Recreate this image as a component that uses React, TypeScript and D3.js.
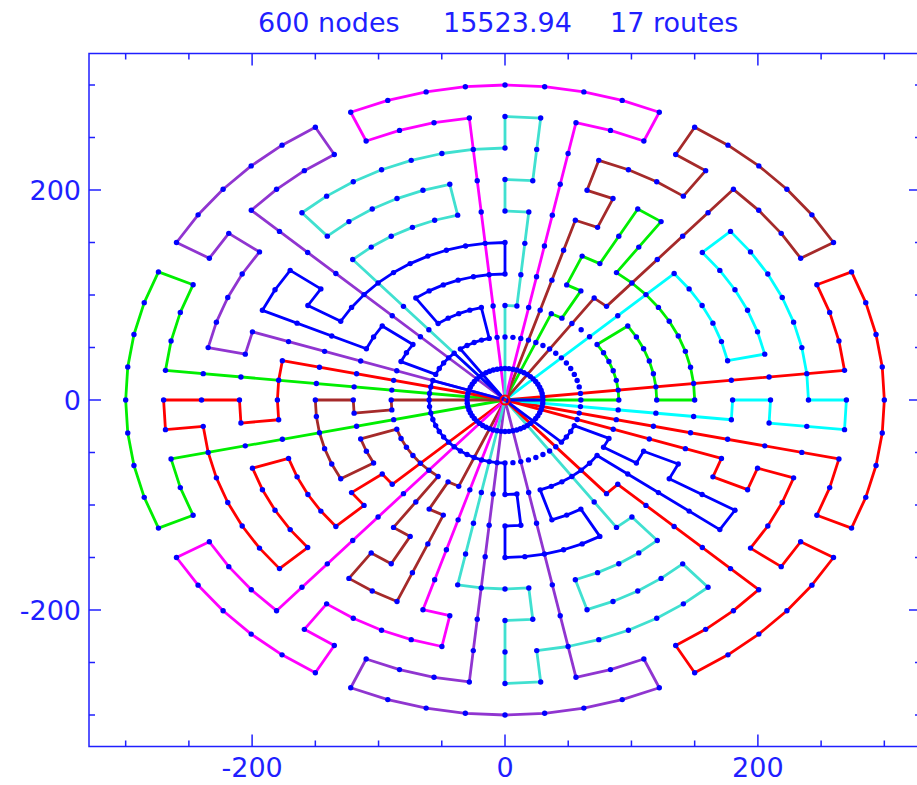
import React, { useEffect, useRef } from 'react';
import * as d3 from 'd3';

// customers sit on concentric rings around the depot, same count on every ring
const ringRadii = [30, 60, 90, 120, 150, 180, 210, 240, 270, 300];
const nodesPerRing = 60;

const titleParts = ['600 nodes', '15523.94', '17 routes'];
const labeledTicks = [-200, 0, 200];
const minorTicks = [-300, -250, -150, -100, -50, 50, 100, 150, 250, 300];

// each route: waypoints [ring, angle index]; [0,0] is the depot.
// consecutive waypoints on the same ring follow the ring node by node.
const routeColors = [
  '#ff0000', '#00ffff', '#00ee00', '#a52a2a', '#ff00ff', '#40e0d0', '#9035d0', '#0000ff',
  '#00ee00', '#ff0000', '#a52a2a', '#ff00ff', '#9035d0', '#40e0d0', '#ff0000', '#0000ff', '#0000ff'
];

const routes = [
  [[0, 0], [9, 1], [9, 4], [10, 4], [10, -4], [9, -4], [9, -2], [0, 0]],
  [[0, 0], [6, 7], [6, 2], [7, 2], [7, 7], [8, 7], [8, 0], [9, 0], [9, -1], [7, -1], [7, 0], [6, 0], [6, -1], [0, 0]],
  [[0, 0], [3, 0], [3, 6], [4, 6], [4, 0], [5, 0], [5, 9], [7, 9], [7, 10], [5, 10], [5, 11], [4, 11], [4, 10], [3, 10], [3, 11], [2, 11], [0, 0]],
  [[0, 0], [4, 9], [4, 8], [9, 8], [9, 5], [10, 5], [10, 10], [9, 10], [9, 9], [8, 9], [8, 12], [7, 12], [7, 11], [6, 11], [6, 12], [0, 0]],
  [[0, 0], [9, 16], [9, 19], [10, 19], [10, 11], [9, 11], [9, 13], [0, 0]],
  [[0, 0], [6, 22], [6, 17], [7, 17], [7, 22], [8, 22], [8, 15], [9, 15], [9, 14], [7, 14], [7, 15], [6, 15], [6, 14], [3, 14], [3, 15], [0, 0]],
  [[0, 0], [9, 23], [9, 20], [10, 20], [10, 25], [9, 25], [9, 24], [8, 24], [8, 28], [7, 28], [7, 27], [0, 0]],
  [[0, 0], [2, 21], [2, 17], [3, 17], [3, 21], [4, 21], [4, 15], [5, 15], [5, 25], [6, 25], [6, 24], [7, 24], [7, 26], [4, 26], [4, 24], [3, 24], [3, 26], [2, 26], [2, 22], [0, 0]],
  [[0, 0], [9, 29], [9, 26], [10, 26], [10, 34], [9, 34], [9, 32], [0, 0]],
  [[0, 0], [6, 28], [6, 31], [7, 31], [7, 30], [9, 30], [9, 31], [8, 31], [8, 37], [7, 37], [7, 33], [6, 33], [6, 37], [5, 37], [5, 36], [4, 36], [4, 37], [0, 0]],
  [[0, 0], [3, 30], [3, 31], [4, 31], [4, 30], [5, 30], [5, 35], [4, 35], [4, 33], [3, 33], [3, 39], [5, 39], [5, 40], [6, 40], [6, 39], [7, 39], [7, 41], [4, 41], [4, 40], [3, 40], [3, 41], [0, 0]],
  [[0, 0], [9, 38], [9, 35], [10, 35], [10, 40], [9, 40], [9, 39], [8, 39], [8, 43], [7, 43], [7, 42], [0, 0]],
  [[0, 0], [9, 44], [9, 41], [10, 41], [10, 49], [9, 49], [9, 47], [0, 0]],
  [[0, 0], [6, 43], [6, 46], [7, 46], [7, 45], [9, 45], [9, 46], [8, 46], [8, 52], [7, 52], [7, 48], [6, 48], [6, 52], [5, 52], [5, 51], [0, 0]],
  [[0, 0], [6, 57], [6, 56], [7, 56], [7, 57], [8, 57], [8, 54], [9, 54], [9, 55], [10, 55], [10, 50], [9, 50], [9, 53], [4, 53], [4, 52], [0, 0]],
  [[0, 0], [2, 27], [2, 45], [3, 45], [3, 46], [4, 46], [4, 45], [5, 45], [5, 50], [4, 50], [4, 48], [3, 48], [3, 54], [7, 54], [7, 55], [5, 55], [5, 56], [4, 56], [4, 55], [3, 55], [3, 56], [2, 56], [2, 53], [0, 0]],
  [[0, 0], [1, 0], [1, 60], [0, 0]]
];

function toXY([ring, idx]) {
  if (ring === 0) return [0, 0];
  const r = ringRadii[ring - 1];
  const a = (idx * 2 * Math.PI) / nodesPerRing;
  return [r * Math.cos(a), r * Math.sin(a)];
}

function expandRoute(route) {
  const pts = [route[0]];
  for (let i = 1; i < route.length; i++) {
    const [pr, pi] = route[i - 1];
    const [ring, idx] = route[i];
    if (ring === pr && ring > 0) {
      const step = idx > pi ? 1 : -1;
      for (let k = pi + step; step > 0 ? k <= idx : k >= idx; k += step) pts.push([ring, k]);
    } else {
      pts.push([ring, idx]);
    }
  }
  return pts.map(toXY);
}

function App() {
  const svgRef = useRef();

  useEffect(() => {
    const width = 917;
    const height = 785;
    const axisColor = '#1f1fff';

    const svg = d3.select(svgRef.current);
    svg.selectAll('*').remove();
    svg.attr('width', width).attr('height', height);

    const x = d3.scaleLinear().domain([-329, 329]).range([89, 921]);
    const y = d3.scaleLinear().domain([-330, 330]).range([746.5, 53.5]);

    svg.append('rect').attr('width', width).attr('height', height).attr('fill', 'white');

    // routes
    const line = d3.line().x(d => x(d[0])).y(d => y(d[1]));
    routes.forEach((route, i) => {
      svg.append('path')
        .attr('d', line(expandRoute(route)))
        .attr('fill', 'none')
        .attr('stroke', routeColors[i])
        .attr('stroke-width', 2.8)
        .attr('stroke-linejoin', 'round');
    });

    // customer nodes
    const nodes = [];
    ringRadii.forEach((_, ri) => {
      for (let k = 0; k < nodesPerRing; k++) nodes.push(toXY([ri + 1, k]));
    });
    svg.append('g').selectAll('circle')
      .data(nodes)
      .join('circle')
      .attr('cx', d => x(d[0]))
      .attr('cy', d => y(d[1]))
      .attr('r', 2.7)
      .attr('fill', '#0000ff');

    // depot
    svg.append('circle').attr('cx', x(0)).attr('cy', y(0)).attr('r', 4.5)
      .attr('fill', 'none').attr('stroke', '#ff0000').attr('stroke-width', 2);
    svg.append('circle').attr('cx', x(0)).attr('cy', y(0)).attr('r', 1.5).attr('fill', '#ff0000');

    // frame
    const [x0, x1] = x.range();
    const [y0, y1] = [y(330), y(-330)];
    svg.append('rect')
      .attr('x', x0).attr('y', y0)
      .attr('width', x1 - x0).attr('height', y1 - y0)
      .attr('fill', 'none').attr('stroke', axisColor).attr('stroke-width', 1.5);

    const ticks = svg.append('g').attr('stroke', axisColor).attr('stroke-width', 1.5);
    const allTicks = [...minorTicks.map(v => [v, 6]), ...labeledTicks.map(v => [v, 12])];
    allTicks.forEach(([v, len]) => {
      ticks.append('line').attr('x1', x(v)).attr('x2', x(v)).attr('y1', y1).attr('y2', y1 - len);
      ticks.append('line').attr('x1', x(v)).attr('x2', x(v)).attr('y1', y0).attr('y2', y0 + len);
      ticks.append('line').attr('y1', y(v)).attr('y2', y(v)).attr('x1', x0).attr('x2', x0 + len);
      ticks.append('line').attr('y1', y(v)).attr('y2', y(v)).attr('x1', x1).attr('x2', x1 - len);
    });

    const font = "'DejaVu Sans', Verdana, sans-serif";
    labeledTicks.forEach(v => {
      svg.append('text')
        .attr('x', x(v)).attr('y', 777)
        .attr('text-anchor', 'middle')
        .attr('font-family', font).attr('font-size', 27)
        .attr('fill', axisColor)
        .text(v);
      svg.append('text')
        .attr('x', 81).attr('y', y(v))
        .attr('dy', '0.36em')
        .attr('text-anchor', 'end')
        .attr('font-family', font).attr('font-size', 27)
        .attr('fill', axisColor)
        .text(v);
    });

    // title
    const titleX = [258, 443, 610];
    titleParts.forEach((t, i) => {
      svg.append('text')
        .attr('x', titleX[i]).attr('y', 32)
        .attr('font-family', font).attr('font-size', 27)
        .attr('fill', axisColor)
        .text(t);
    });
  }, []);

  return (
    <div style={{ position: 'absolute', left: 0, top: 0 }}>
      <svg ref={svgRef} style={{ display: 'block' }}></svg>
    </div>
  );
}

export default App;
